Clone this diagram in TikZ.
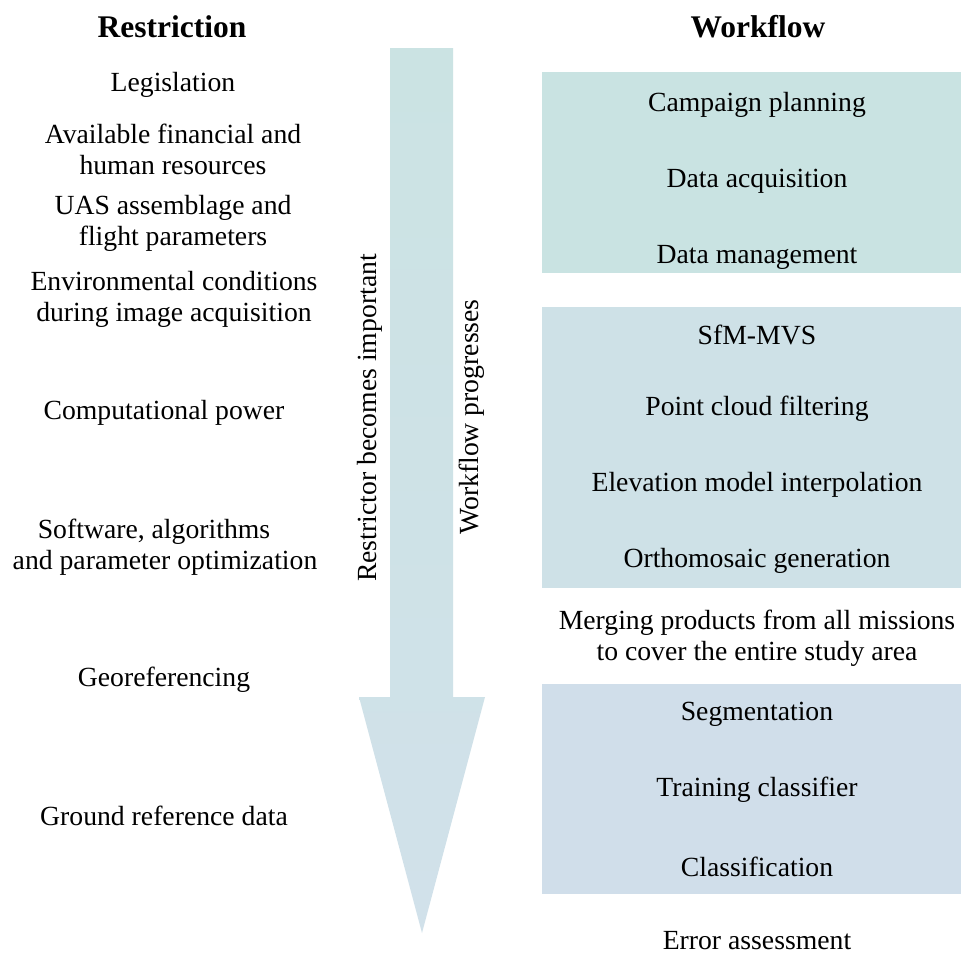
\documentclass[tikz,border=0pt]{standalone}
\usepackage{fontspec}
\setmainfont{Liberation Serif}
\begin{document}
\begin{tikzpicture}[x=1pt,y=-1pt,
  lbl/.style={inner sep=0pt,align=center,font=\fontsize{27.7}{31}\selectfont},
  title/.style={inner sep=0pt,font=\fontsize{31.5}{36}\selectfont\bfseries},
  band/.style={draw=none}]
\definecolor{bandA}{HTML}{C9E3E2}
\definecolor{bandB}{HTML}{CEE1E7}
\definecolor{bandC}{HTML}{D0DEEA}
\definecolor{arrTop}{HTML}{CBE3E3}
\definecolor{arrBot}{HTML}{D1E1EA}
\useasboundingbox (0,0) rectangle (961,954);
\fill[white] (0,0) rectangle (961,954);

% big downward arrow
\shade[top color=arrTop,bottom color=arrBot]
  (390,48) -- (453,48) -- (453,697) -- (485,697) -- (422,933)
  -- (359,697) -- (390,697) -- cycle;

% workflow bands
\fill[bandA] (542,72) rectangle (961,273);
\fill[bandB] (542,307) rectangle (961,588);
\fill[bandC] (542,684) rectangle (961,894);

% headings
\node[title] (hr) at (172,27) {Restriction};
\node[title] (hw) at (758,27) {Workflow};

% restrictions
\node[lbl] (r1) at (173,85) {Legislation};
\node[lbl] (r2) at (173,149) {Available financial and\\human resources};
\node[lbl] (r3) at (173,223) {UAS assemblage and\\flight parameters};
\node[lbl] (r4) at (174,299) {Environmental conditions\\during image acquisition};
\node[lbl] (r5) at (164,413) {Computational power};
\node[lbl] (r6) at (165,547) {Software, algorithms\kern22pt\\and parameter optimization};
\node[lbl] (r7) at (164,680) {Georeferencing};
\node[lbl] (r8) at (164,816) {Ground reference data};

% arrow captions
\node[lbl,rotate=90] (ca) at (370,418) {Restrictor becomes important};
\node[lbl,rotate=90] (cb) at (472,417) {Workflow progresses};

% workflow steps
\node[lbl] (w1) at (757,105) {Campaign planning};
\node[lbl] (w2) at (757,181) {Data acquisition};
\node[lbl] (w3) at (757,257) {Data management};
\node[lbl] (w4) at (757,335) {SfM-MVS};
\node[lbl] (w5) at (757,409) {Point cloud filtering};
\node[lbl] (w6) at (757,485) {Elevation model interpolation};
\node[lbl] (w7) at (757,561) {Orthomosaic generation};
\node[lbl] (w8) at (757,638) {Merging products from all missions\\to cover the entire study area};
\node[lbl] (w9) at (757,714) {Segmentation};
\node[lbl] (w10) at (757,790) {Training classifier};
\node[lbl] (w11) at (757,867) {Classification};
\node[inner sep=0pt,anchor=base,font=\fontsize{27.7}{31}\selectfont] (w12) at (757,949) {Error assessment};
\end{tikzpicture}
\end{document}
